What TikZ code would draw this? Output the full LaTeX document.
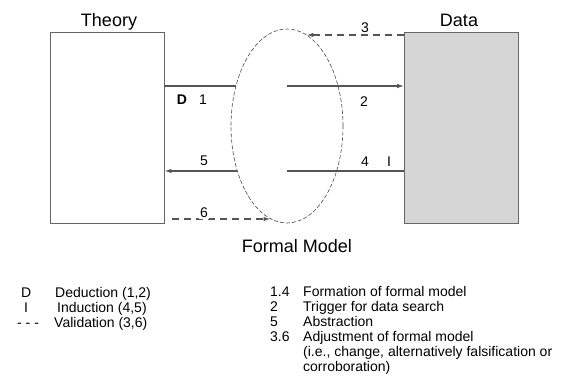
\documentclass[tikz,border=0pt]{standalone}
\usepackage{fontspec}
\setmainfont{Liberation Sans}
\usetikzlibrary{arrows.meta,positioning,shapes.geometric}
\definecolor{lineGray}{HTML}{555555}
\definecolor{dataGray}{HTML}{D6D6D6}

\begin{document}
\begin{tikzpicture}[x=1pt,y=-1pt,
            box/.style={draw=black!60,line width=0.7pt,minimum width=114pt,minimum height=191pt,inner sep=0pt},
            oval/.style={ellipse,draw=black!70,line width=0.6pt,dash pattern=on 4pt off 2pt,
                         minimum width=112pt,minimum height=194pt,inner sep=0pt},
            title/.style={font=\fontsize{18}{20}\selectfont,anchor=base,inner sep=0pt},
            lbl/.style={font=\fontsize{14}{15}\selectfont,anchor=base,inner sep=0pt},
            legend/.style={font=\fontsize{14}{15}\selectfont,anchor=base west,inner sep=0pt},
            flow/.style={line width=1.5pt,draw=lineGray},
            arrow/.style={flow,-{Latex[length=7pt,width=4.5pt]}},
            valid/.style={arrow,dash pattern=on 7pt off 5pt}]
  \useasboundingbox (0,0) rectangle (571,387);
  \node[box] (theory) at (107,127.5) {};
  \node[box,fill=dataGray] (data) at (461.5,127.5) {};
  \node[oval] (model) at (287,126) {};
  \node[title] at (109,27) {Theory};
  \node[title] at (459,27) {Data};
  \node[title] at (297,253) {Formal Model};
  \coordinate (rowA) at (0,86);
  \coordinate (rowB) at (0,171);
  \coordinate (rowC) at (0,35);
  \coordinate (rowD) at (0,219);
  \draw[flow] (theory.east |- rowA) -- (model.141.9 |- rowA);
  \draw[arrow] (model.center |- rowA) -- (data.west |- rowA);
  \draw[valid] (data.west |- rowC) -- (model.78 |- rowC);
  \draw[flow] (data.west |- rowB) -- (model.center |- rowB);
  \draw[arrow] (model.222 |- rowB) -- (theory.east |- rowB);
  \draw[valid] ([xshift=8pt]theory.east |- rowD) -- (model.260.2 |- rowD);
  \node[lbl,font=\fontsize{14}{15}\selectfont\bfseries] at (182,105) {D};
  \node[lbl] at (203,105) {1};
  \node[lbl] at (364,107) {2};
  \node[lbl,fill=white,inner sep=1pt] at (365,33) {3};
  \node[lbl] at (365,167) {4};
  \node[lbl] at (389,167) {I};
  \node[lbl] at (204,166) {5};
  \node[lbl,fill=white,inner sep=1pt] at (204,218) {6};
  \node[legend] at (21,298) {D};
  \node[legend] at (55,298) {Deduction (1,2)};
  \node[legend] at (24,313) {I};
  \node[legend] at (57,313) {Induction (4,5)};
  \node[legend] at (17,328) {- - -};
  \node[legend] at (54,328) {Validation (3,6)};
  \node[legend] at (270,297) {1.4};
  \node[legend] at (303,297) {Formation of formal model};
  \node[legend] at (270,312) {2};
  \node[legend] at (303,312) {Trigger for data search};
  \node[legend] at (270,327) {5};
  \node[legend] at (303,327) {Abstraction};
  \node[legend] at (270,342) {3.6};
  \node[legend] at (303,342) {Adjustment of formal model};
  \node[legend] at (303,357) {(i.e., change, alternatively falsification or};
  \node[legend] at (303,372) {corroboration)};
\end{tikzpicture}
\end{document}
